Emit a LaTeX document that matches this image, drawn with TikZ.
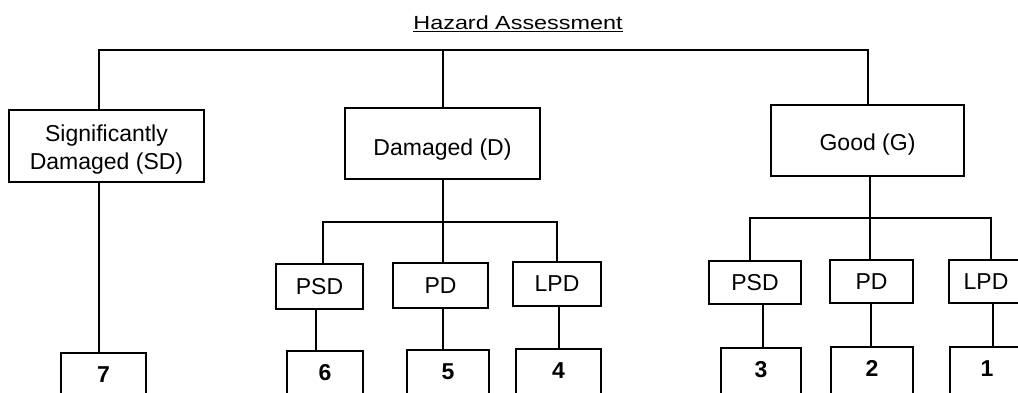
\documentclass[tikz,border=0pt]{standalone}
\usepackage{fontspec}
\setmainfont{Liberation Sans}
\usepackage{graphicx}
\begin{document}
\begin{tikzpicture}[x=1pt,y=-1pt,
  box/.style={draw, line width=1.8pt, inner sep=0pt, align=center,
    font=\fontsize{23}{28}\selectfont},
  numbox/.style={draw, line width=1.8pt, anchor=north, inner xsep=0pt,
    inner ysep=14pt, text height=16pt, text depth=40pt,
    font=\fontsize{23}{28}\selectfont\bfseries},
  conn/.style={line width=1.8pt}]
\useasboundingbox (0,0) rectangle (1018,393);
\clip (0,0) rectangle (1018,393);

% title
\node[anchor=base, inner sep=0pt, font=\fontsize{19}{22}\selectfont] (title) at (518,30)
  {\scalebox{1.23}[1]{\underline{Hazard Assessment}}};

% level 1
\node[box, minimum width=195pt, minimum height=72pt] (SD) at (106.5,146)
  {\rule{0pt}{24pt}Significantly\\Damaged (SD)};
\node[box, minimum width=195pt, minimum height=71pt, text height=25pt, text depth=1pt] (D) at (442.5,143.5) {Damaged (D)};
\node[box, minimum width=193pt, minimum height=71pt, text height=22pt, text depth=1.6pt] (G) at (867.5,140.5) {Good (G)};

% level 2
\node[box, minimum width=87pt, minimum height=45pt] (PSDd) at (319.5,286.5) {PSD};
\node[box, minimum width=95pt, minimum height=45pt] (PDd) at (440.5,285.5) {PD};
\node[box, minimum width=88pt, minimum height=44pt] (LPDd) at (557,284) {LPD};
\node[box, minimum width=92pt, minimum height=43pt] (PSDg) at (755,282.5) {PSD};
\node[box, minimum width=83pt, minimum height=43pt] (PDg) at (871.5,281.5) {PD};
\node[box, minimum width=74pt, minimum height=43pt] (LPDg) at (986,281.5) {LPD};

% level 3
\node[numbox, minimum width=85pt] (n7) at (103.5,352) {7};
\node[numbox, minimum width=76pt] (n6) at (325,350) {6};
\node[numbox, minimum width=82pt] (n5) at (448,349) {5};
\node[numbox, minimum width=85pt] (n4) at (558.5,348) {4};
\node[numbox, minimum width=80pt] (n3) at (761,347) {3};
\node[numbox, minimum width=82pt] (n2) at (872,346) {2};
\node[numbox, minimum width=74pt] (n1) at (987,346) {1};

% junctions
\coordinate (tL) at (99,50);
\coordinate (tM) at (443,50);
\coordinate (tR) at (868,50);
\coordinate (dL) at (323,222);
\coordinate (dM) at (443,222);
\coordinate (dR) at (557,222);
\coordinate (gL) at (750,218);
\coordinate (gM) at (870,218);
\coordinate (gR) at (991,218);
\coordinate (x7) at (99,0);
\coordinate (x6) at (316,0);
\coordinate (x5) at (443,0);
\coordinate (x4) at (559,0);
\coordinate (x3) at (763,0);
\coordinate (x2) at (871,0);
\coordinate (x1) at (993,0);

% connectors
\draw[conn] (SD.north -| tL) -- (tL) -- (tR) -- (G.north -| tR);
\draw[conn] (tM) -- (D.north -| tM);

\draw[conn] (D.south -| dM) -- (dM);
\draw[conn] (PSDd.north -| dL) -- (dL) -- (dR) -- (LPDd.north -| dR);
\draw[conn] (dM) -- (PDd.north -| dM);

\draw[conn] (G.south -| gM) -- (gM);
\draw[conn] (PSDg.north -| gL) -- (gL) -- (gR) -- (LPDg.north -| gR);
\draw[conn] (gM) -- (PDg.north -| gM);

\draw[conn] (SD.south -| x7) -- (n7.north -| x7);
\draw[conn] (PSDd.south -| x6) -- (n6.north -| x6);
\draw[conn] (PDd.south -| x5) -- (n5.north -| x5);
\draw[conn] (LPDd.south -| x4) -- (n4.north -| x4);
\draw[conn] (PSDg.south -| x3) -- (n3.north -| x3);
\draw[conn] (PDg.south -| x2) -- (n2.north -| x2);
\draw[conn] (LPDg.south -| x1) -- (n1.north -| x1);
\end{tikzpicture}
\end{document}
